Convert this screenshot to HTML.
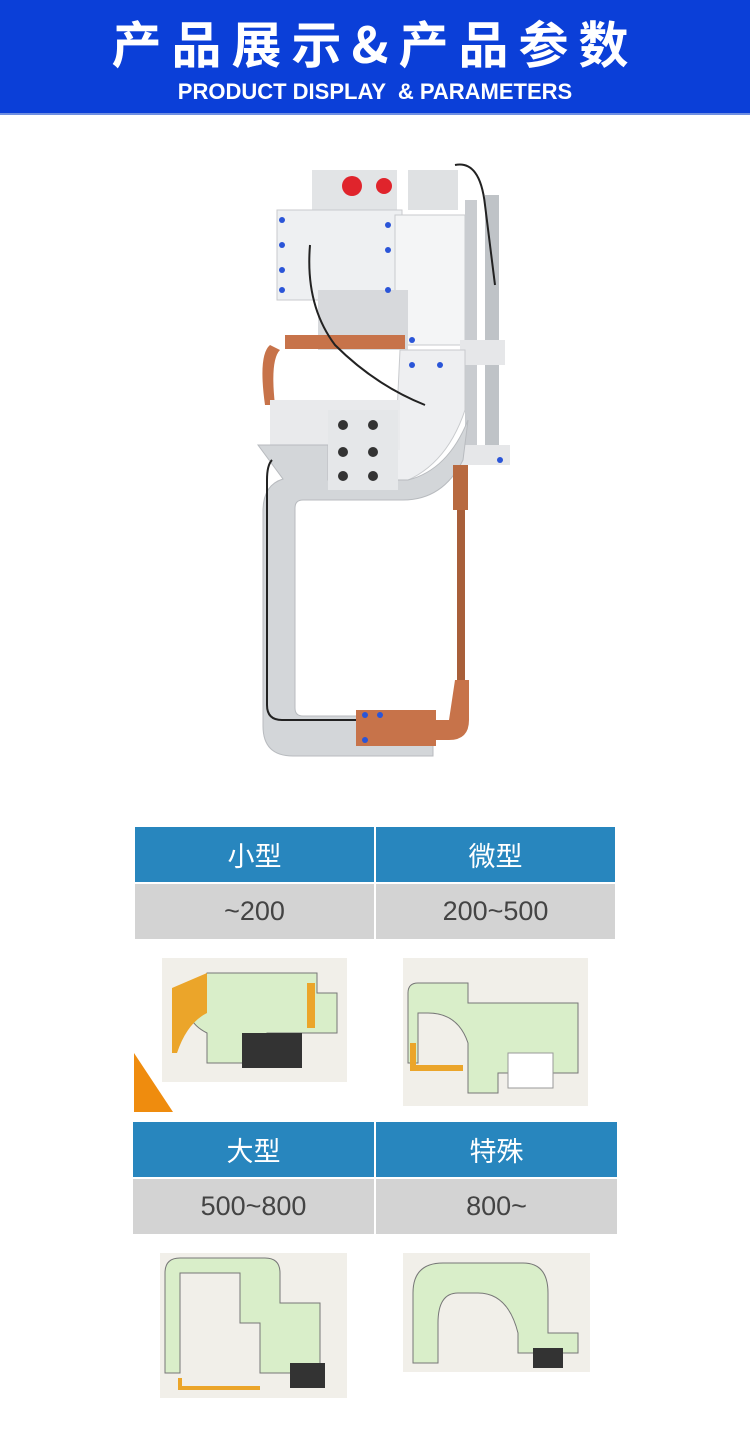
<!DOCTYPE html>
<html><head><meta charset="utf-8"><style>
body{margin:0;width:750px;height:1453px;background:#fff;position:relative;overflow:hidden;font-family:"Liberation Sans","Noto Sans CJK SC",sans-serif}
.hdr{position:absolute;left:0;top:0;width:750px;height:113px;background:#0b3fd8;border-bottom:2px solid #6f8fe0}
.t1{position:absolute;top:12px;width:750px;text-align:center;color:#fff;font-size:50px;font-weight:bold;letter-spacing:10px;line-height:60px;font-family:"Noto Sans CJK SC",sans-serif}
.t2{position:absolute;top:77px;width:750px;text-align:center;color:#fff;font-size:22px;font-weight:bold;line-height:30px;letter-spacing:0}
.tb{position:absolute;display:grid;grid-template-columns:1fr 1fr;column-gap:2px;row-gap:2px;background:#fff}
.tb div{display:flex;align-items:center;justify-content:center;font-size:27px;height:55px}
.h{background:#2886be;color:#fff}
.g{background:#d3d3d3;color:#444}
.img{position:absolute;background:#f1efe9}
</style></head><body>
<div class="hdr"><div class="t1">产品展示&amp;产品参数</div><div class="t2">PRODUCT DISPLAY &nbsp;&amp; PARAMETERS</div></div>

<svg style="position:absolute;left:0;top:0" width="750" height="800">
<rect x="312" y="170" width="85" height="45" fill="#e2e4e6"/>
<circle cx="352" cy="186" r="10" fill="#e0242c"/><circle cx="384" cy="186" r="8" fill="#e0242c"/>
<rect x="408" y="170" width="50" height="40" fill="#dfe1e3"/>
<rect x="277" y="210" width="125" height="90" fill="#eef0f2" stroke="#c8cacd"/>
<rect x="395" y="215" width="70" height="130" fill="#f4f5f6" stroke="#c8cacd"/>
<rect x="318" y="290" width="90" height="60" fill="#d7d9dc"/>
<rect x="465" y="200" width="12" height="260" fill="#c9ccd0"/>
<rect x="485" y="195" width="14" height="270" fill="#bfc3c7"/>
<rect x="460" y="340" width="45" height="25" fill="#e6e7e9"/>
<rect x="455" y="445" width="55" height="20" fill="#e6e7e9"/>
<rect x="285" y="335" width="120" height="14" fill="#c7734a"/>
<path d="M270 345 q-12 10 -5 60 h10 q-5-45 5-55z" fill="#c7734a"/>
<path d="M400 350 h65 v60 q-20 60 -70 75 h-60 v-30 h60z" fill="#eeeff1" stroke="#c8cacd"/>
<rect x="270" y="400" width="130" height="50" fill="#e9eaec"/>
<path d="M258 445 h70 v35 h80 q40-10 60-60 l-5 40 q-20 40 -60 40 h-100 q-8 0 -8 8 v200 q0 8 8 8 h130 v40 h-140 q-30 0 -30-30 v-215 q0-26 20-32z" fill="#d3d6d9" stroke="#b8bbbf"/>
<path d="M272 460 q-5 5 -5 20 v225 q0 15 15 15 h80" fill="none" stroke="#222" stroke-width="2"/>
<rect x="328" y="410" width="70" height="80" fill="#e5e7e9"/>
<circle cx="343" cy="425" r="5" fill="#333"/><circle cx="373" cy="425" r="5" fill="#333"/>
<circle cx="343" cy="452" r="5" fill="#333"/><circle cx="373" cy="452" r="5" fill="#333"/>
<circle cx="343" cy="476" r="5" fill="#333"/><circle cx="373" cy="476" r="5" fill="#333"/>
<rect x="453" y="465" width="15" height="45" fill="#b86a40"/>
<rect x="457" y="510" width="8" height="170" fill="#a85f3a"/>
<path d="M455 680 h14 v40 q0 20 -20 20 h-15 v-20 h15 z" fill="#c7734a"/>
<rect x="356" y="710" width="80" height="36" fill="#c7734a"/>
<g fill="#2a55d8"><circle cx="282" cy="220" r="3"/><circle cx="282" cy="245" r="3"/><circle cx="282" cy="270" r="3"/><circle cx="282" cy="290" r="3"/><circle cx="388" cy="225" r="3"/><circle cx="388" cy="250" r="3"/><circle cx="388" cy="290" r="3"/><circle cx="412" cy="340" r="3"/><circle cx="412" cy="365" r="3"/><circle cx="440" cy="365" r="3"/><circle cx="365" cy="715" r="3"/><circle cx="365" cy="740" r="3"/><circle cx="380" cy="715" r="3"/><circle cx="500" cy="460" r="3"/></g>
<path d="M310 245 q-5 60 25 100 q40 40 90 60" fill="none" stroke="#222" stroke-width="2"/>
<path d="M455 165 q25 -5 30 40 l10 80" fill="none" stroke="#222" stroke-width="2"/>
</svg>

<div class="tb" style="left:135px;top:827px;width:480px"><div class="h">小型</div><div class="h">微型</div><div class="g">~200</div><div class="g">200~500</div></div>
<div class="img" style="left:162px;top:958px;width:185px;height:124px"><svg width="185" height="124"><path d="M45 15 h110 v20 h20 v40 h-70 v30 h-60 v-30 q-20-10 -20-30z" fill="#d9eec9" stroke="#777"/><path d="M10 30 l35 -15 v40 q-20 10 -30 40 h-5z" fill="#eba52a"/><rect x="80" y="75" width="60" height="35" fill="#333"/><rect x="145" y="25" width="8" height="45" fill="#eba52a"/></svg></div>
<div class="img" style="left:403px;top:958px;width:185px;height:148px"><svg width="185" height="148"><path d="M5 35 q0-10 10-10 h50 v20 h110 v70 h-80 v20 h-30 v-50 q-10-30 -40-30 h-10 v50 h-10z" fill="#d9eec9" stroke="#777"/><path d="M10 85 v25 h50" fill="none" stroke="#eba52a" stroke-width="6"/><rect x="105" y="95" width="45" height="35" fill="#fff" stroke="#999"/></svg></div>
<div style="position:absolute;left:134px;top:1053px;width:0;height:0;border-left:39px solid #ef8c0e;border-top:59px solid transparent"></div>

<div class="tb" style="left:133px;top:1122px;width:484px"><div class="h">大型</div><div class="h">特殊</div><div class="g">500~800</div><div class="g">800~</div></div>
<div class="img" style="left:160px;top:1253px;width:187px;height:145px"><svg width="187" height="145"><path d="M5 20 q0-15 15-15 h85 q15 0 15 15 v30 h40 v70 h-60 v-50 h-20 v-50 h-60 v100 h-15z" fill="#d9eec9" stroke="#777"/><rect x="130" y="110" width="35" height="25" fill="#333"/><path d="M20 125 v10 h80" fill="none" stroke="#eba52a" stroke-width="4"/></svg></div>
<div class="img" style="left:403px;top:1253px;width:187px;height:119px"><svg width="187" height="119"><path d="M10 40 q0-30 30-30 h80 q25 0 25 30 v40 h30 v20 h-60 v-20 q-10-40 -40-40 h-20 q-20 0 -20 30 v40 h-25z" fill="#d9eec9" stroke="#777"/><rect x="130" y="95" width="30" height="20" fill="#333"/></svg></div>
</body></html>
